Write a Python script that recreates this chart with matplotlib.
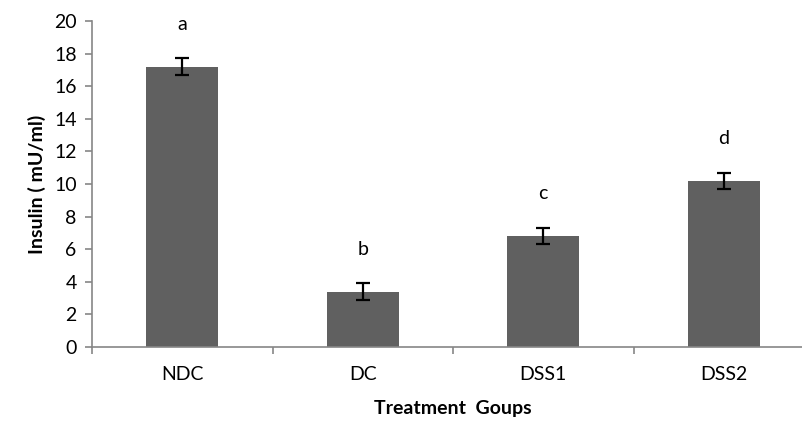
import matplotlib.pyplot as plt
import numpy as np

groups = ["NDC", "DC", "DSS1", "DSS2"]
insulin = [17.2, 3.4, 6.8, 10.2]
err = [0.5, 0.5, 0.5, 0.5]
letters = ["a", "b", "c", "d"]

plt.rcParams['font.family'] = ['Lato', 'DejaVu Sans']

fig = plt.figure(figsize=(8.02, 4.26), dpi=100)
ax = fig.add_axes([92 / 802, 79 / 426, 722 / 802, 326 / 426])

x = np.arange(len(groups))
ax.bar(x, insulin, width=0.4, color="#606060", zorder=2)
ax.errorbar(x, insulin, yerr=err, fmt="none", ecolor="black",
            elinewidth=1.6, capsize=5, capthick=1.6, zorder=3)

for xi, v, e, s in zip(x, insulin, err, letters):
    ax.text(xi, v + e + 2.1, s, ha="center", va="center", fontsize=14)

ax.set_xlim(-0.5, 3.5)
ax.set_ylim(0, 20)
ax.set_yticks(np.arange(0, 21, 2))
ax.set_xticks(x)
ax.set_xticklabels(groups)
ax.set_xticks(np.arange(-0.5, 4, 1), minor=True)

for side in ["top", "right"]:
    ax.spines[side].set_visible(False)
for side in ["left", "bottom"]:
    ax.spines[side].set_color("#868686")
    ax.spines[side].set_linewidth(1.2)

ax.tick_params(axis="y", colors="#868686", labelcolor="black", length=5,
               width=1.2, labelsize=14, pad=6)
ax.tick_params(axis="x", which="major", length=0, labelsize=14, pad=14)
ax.tick_params(axis="x", which="minor", colors="#868686", length=5, width=1.2)

ax.set_ylabel("Insulin ( mU/ml)", fontsize=14, fontweight="bold", labelpad=6)
ax.set_xlabel("Treatment  Goups", fontsize=14, fontweight="bold", labelpad=12)

plt.savefig("out.png", dpi=100)
